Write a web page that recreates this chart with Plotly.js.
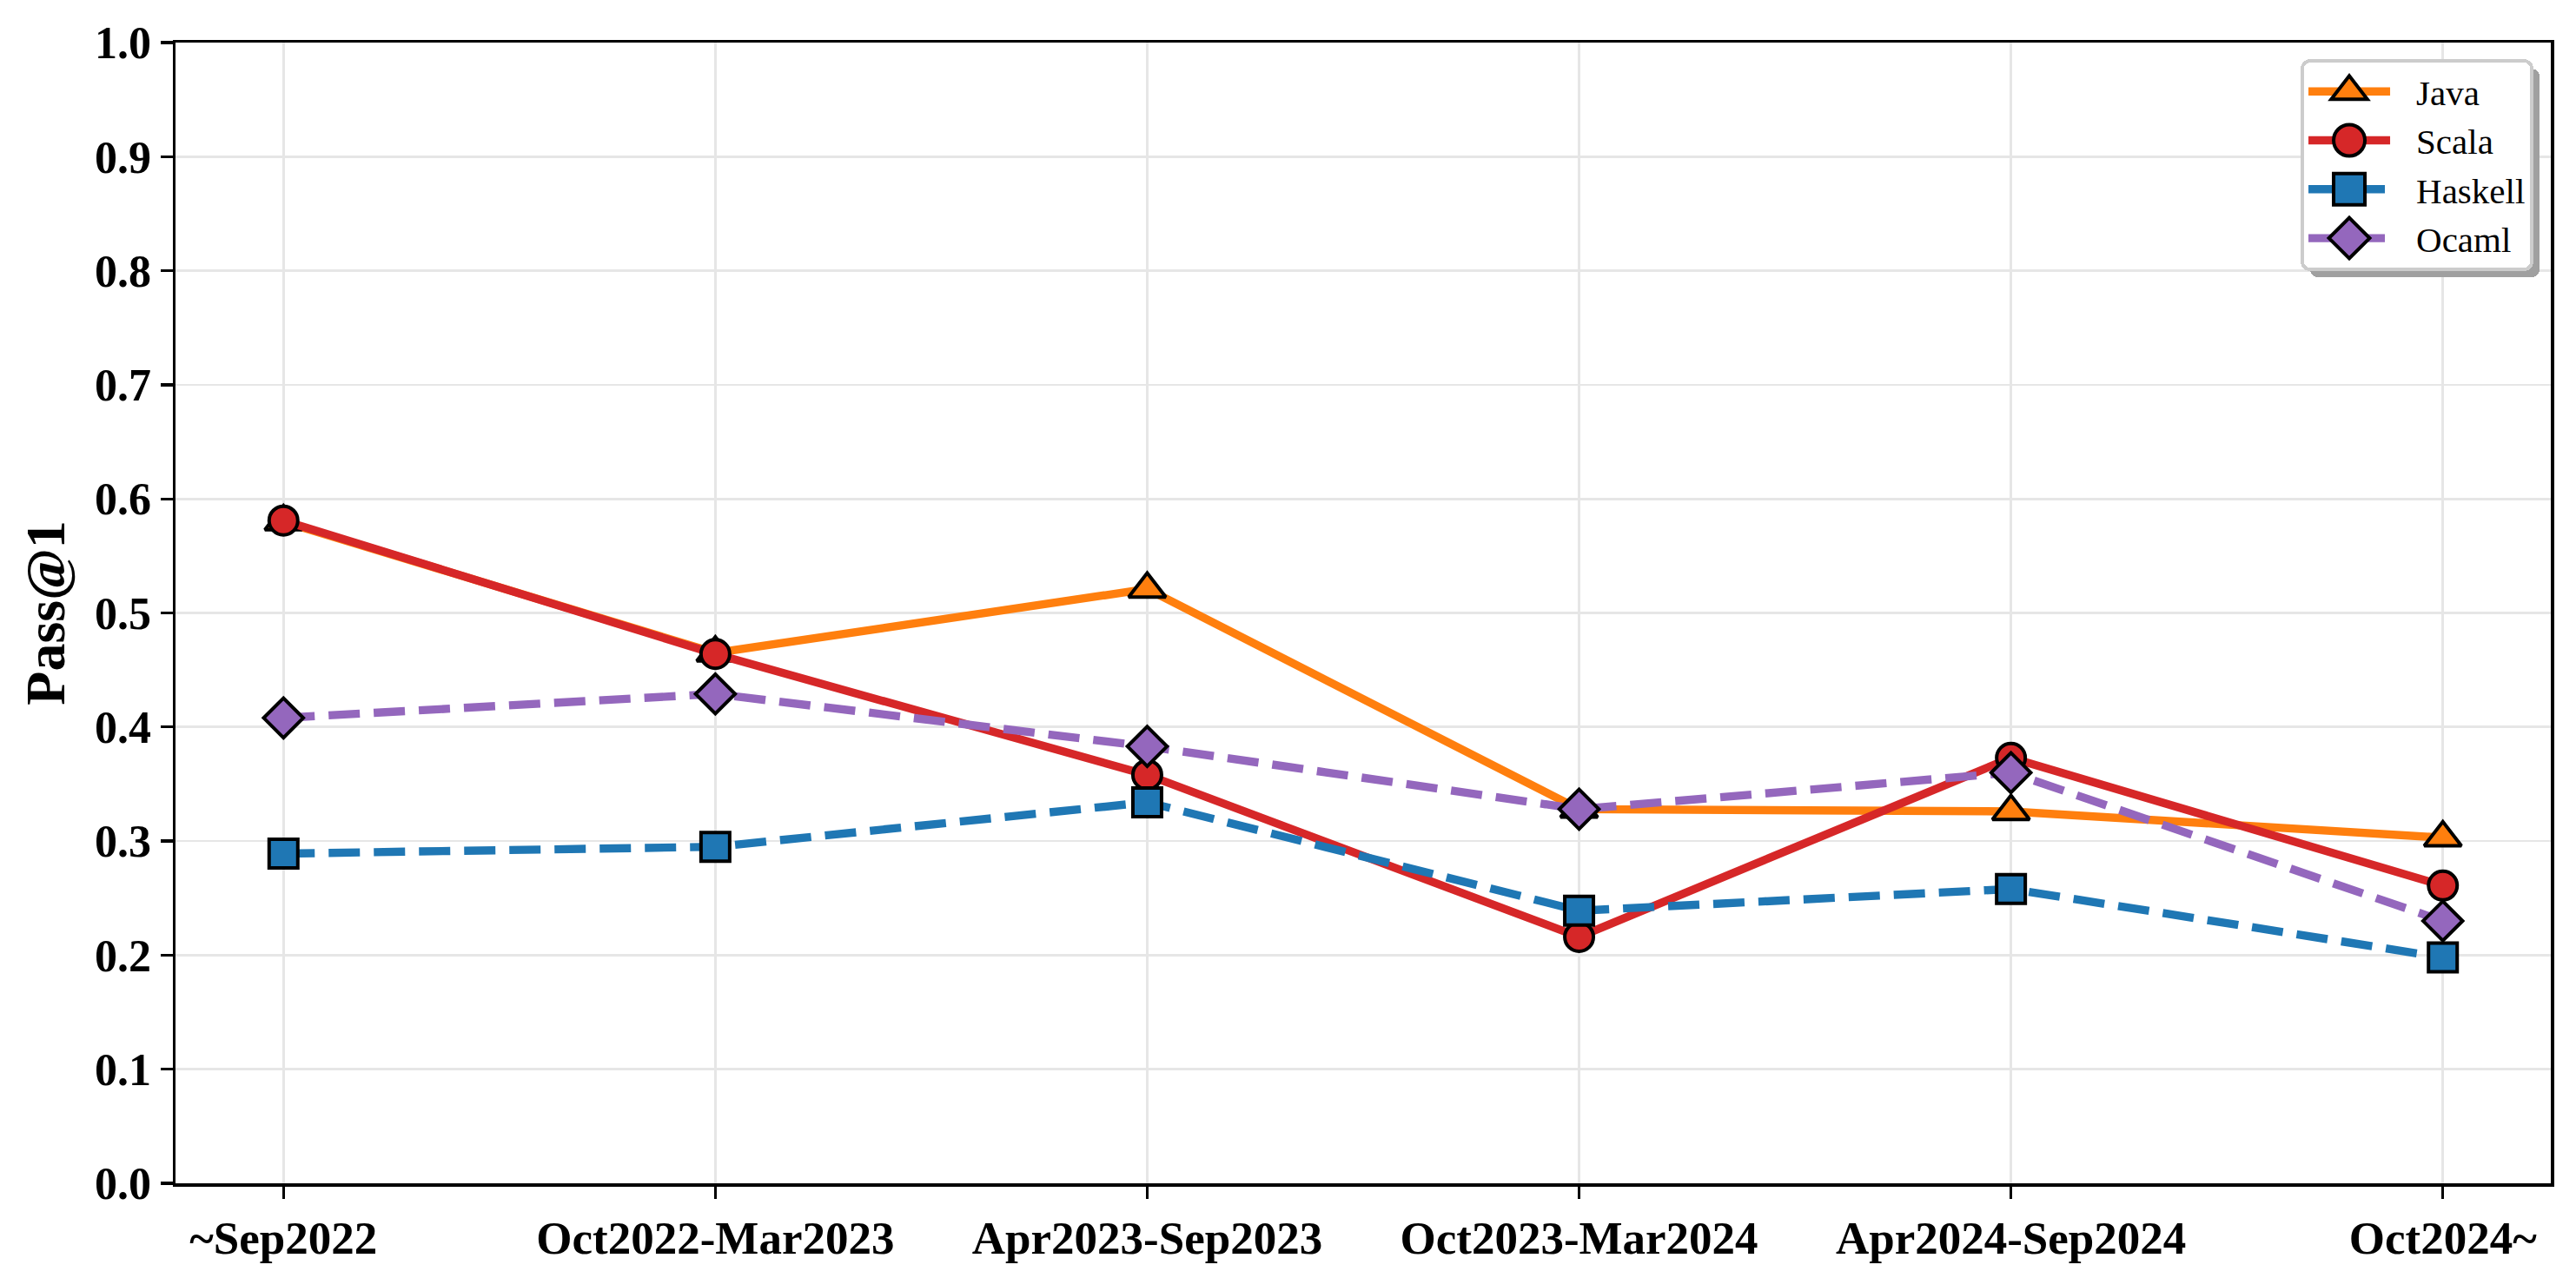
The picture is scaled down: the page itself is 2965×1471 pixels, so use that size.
<!DOCTYPE html>
<html>
<head>
<meta charset="utf-8">
<script src="https://cdn.plot.ly/plotly-3.0.1.min.js"></script>
<style>
  html, body { margin: 0; padding: 0; background: #ffffff; }
  #chart { width: 2965px; height: 1471px; }
</style>
</head>
<body>
<div id="chart"></div>
<script>
// ---- data ----
const categories = ['~Sep2022', 'Oct2022-Mar2023', 'Apr2023-Sep2023', 'Oct2023-Mar2024', 'Apr2024-Sep2024', 'Oct2024~'];
const javaValues    = [0.580, 0.465, 0.521, 0.328, 0.326, 0.303];
const scalaValues   = [0.581, 0.464, 0.358, 0.216, 0.373, 0.261];
const haskellValues = [0.289, 0.295, 0.334, 0.239, 0.258, 0.198];
const ocamlValues   = [0.408, 0.429, 0.383, 0.328, 0.360, 0.230];
const seriesNames = ['Java', 'Scala', 'Haskell', 'Ocaml'];
const yTickValues = [0.0, 0.1, 0.2, 0.3, 0.4, 0.5, 0.6, 0.7, 0.8, 0.9, 1.0];
const yTickLabels = ['0.0', '0.1', '0.2', '0.3', '0.4', '0.5', '0.6', '0.7', '0.8', '0.9', '1.0'];

const FONT = '"Liberation Serif", "Times New Roman", Times, serif';
const LW = 9.4;
const DASH = '36px,16px';

function mk(name, y, color, symbol, dash, size) {
  return {
    type: 'scatter', mode: 'lines+markers', name: name,
    x: categories, y: y,
    line: { color: color, width: LW, dash: dash },
    marker: { symbol: symbol, size: size, color: color, line: { color: '#000000', width: 4 } },
    cliponaxis: false
  };
}

const traces = [
  mk(seriesNames[0], javaValues,    '#ff7f0e', 'triangle-up', 'solid', 37),
  mk(seriesNames[1], scalaValues,   '#d62728', 'circle',      'solid', 33),
  mk(seriesNames[2], haskellValues, '#1f77b4', 'square',      DASH,    33),
  mk(seriesNames[3], ocamlValues,   '#9467bd', 'diamond',     DASH,    35)
];

const LEG_ITEM_W = 119;   // symbol slot width
const LEG_LINE_LEN = 94;  // drawn sample line length

const layout = {
  width: 2965, height: 1471,
  paper_bgcolor: '#ffffff', plot_bgcolor: '#ffffff',
  margin: { l: 202, r: 29, t: 49, b: 109, pad: 0 },
  font: { family: FONT, color: '#000000' },
  showlegend: true,
  legend: {
    x: 0.9927, xanchor: 'right', y: 0.9855, yanchor: 'top',
    bgcolor: '#ffffff', bordercolor: '#cccccc', borderwidth: 4,
    font: { family: FONT, size: 41, color: '#000000' },
    itemwidth: LEG_ITEM_W, tracegroupgap: 0
  },
  xaxis: {
    type: 'category', range: [-0.25, 5.25],
    showgrid: true, gridcolor: '#e6e6e6', gridwidth: 2.7,
    showline: true, linecolor: '#000000', linewidth: 3.5, mirror: true,
    ticks: 'outside', ticklen: 14, tickwidth: 3.3, tickcolor: '#000000',
    tickfont: { family: FONT, size: 53, color: '#000000', weight: 'bold' },
    zeroline: false, fixedrange: true
  },
  yaxis: {
    range: [0, 1], tickmode: 'array', tickvals: yTickValues, ticktext: yTickLabels,
    showgrid: true, gridcolor: '#e6e6e6', gridwidth: 2.7,
    showline: true, linecolor: '#000000', linewidth: 3.5, mirror: true,
    ticks: 'outside', ticklen: 14, tickwidth: 3.3, tickcolor: '#000000',
    tickfont: { family: FONT, size: 52, color: '#000000', weight: 'bold' },
    zeroline: false, fixedrange: true,
    title: { text: 'Pass@1', font: { family: FONT, size: 64, color: '#000000', weight: 'bold' }, standoff: 14 }
  }
};

Plotly.newPlot('chart', traces, layout, { staticPlot: true, displayModeBar: false }).then(function (gd) {
  const leg = gd.querySelector('.legend');
  if (!leg) return;
  const bg = leg.querySelector('rect.bg');
  if (bg) {
    bg.setAttribute('rx', 9); bg.setAttribute('ry', 9);
    const sh = bg.cloneNode(false);
    sh.setAttribute('class', 'legend-shadow');
    sh.style.fill = '#a0a0a0'; sh.style.stroke = 'none';
    const tr = bg.getAttribute('transform') || '';
    sh.setAttribute('transform', tr + ' translate(9,9)');
    bg.parentNode.insertBefore(sh, bg);
  }
  const s = 2.25;
  leg.querySelectorAll('g.traces').forEach(function (item) {
    let x0 = 5, y0 = 0;
    item.querySelectorAll('.legendlines path').forEach(function (p) {
      const d = p.getAttribute('d') || '';
      const m = d.match(/M\s*([-\d.]+)\s*,\s*([-\d.]+)/);
      if (m) { x0 = parseFloat(m[1]); y0 = parseFloat(m[2]); }
      p.setAttribute('d', 'M' + x0 + ',' + y0 + 'h' + LEG_LINE_LEN);
    });
    const cx = x0 + LEG_LINE_LEN / 2;
    item.querySelectorAll('path.scatterpts').forEach(function (p) {
      p.setAttribute('transform', 'translate(' + cx + ',0) scale(' + s + ')');
      p.style.strokeWidth = (4 / s) + 'px';
    });
  });
});
</script>
</body>
</html>
